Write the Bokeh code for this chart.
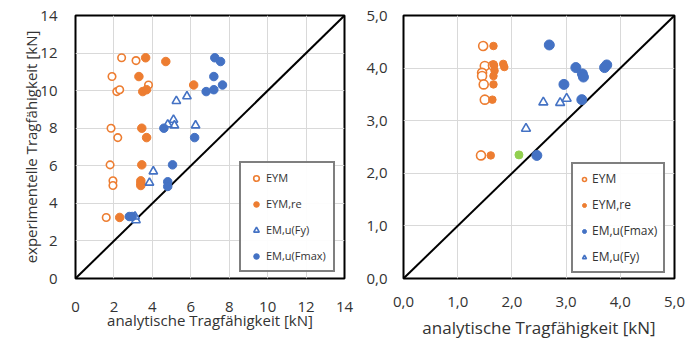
from bokeh.plotting import figure
from bokeh.layouts import row
from bokeh.models import Range1d, FixedTicker, Legend, LegendItem
from bokeh.embed import file_html
from bokeh.resources import INLINE

ORANGE = "#ED7D31"
BLUE = "#4472C4"
GREEN = "#92D050"
TXT = "#333333"
FONT = "Open Sans"

# ---------------- left chart data ----------------
L_ticks = [0, 2, 4, 6, 8, 10, 12, 14]
L_diag = [0, 14]
L_eym_x = [2.4, 3.15, 1.9, 2.15, 2.3, 3.8, 1.85, 2.2, 1.8, 1.95, 1.95, 1.6]
L_eym_y = [11.75, 11.6, 10.75, 9.95, 10.05, 10.3, 8.0, 7.5, 6.05, 5.2, 4.95, 3.25]
L_eymre_x = [3.65, 4.7, 3.3, 3.5, 3.7, 6.15, 3.45, 3.7, 3.45, 3.4, 3.4, 3.4, 2.3]
L_eymre_y = [11.75, 11.55, 10.75, 9.95, 10.05, 10.3, 8.0, 7.5, 6.05, 5.2, 5.05, 4.95, 3.25]
L_fy_x = [5.25, 5.8, 5.1, 5.15, 4.8, 6.25, 4.05, 3.85, 3.15, 3.1]
L_fy_y = [9.45, 9.7, 8.45, 8.15, 8.2, 8.15, 5.7, 5.1, 3.1, 3.3]
L_fmax_x = [7.25, 7.55, 7.2, 7.65, 7.2, 6.8, 4.6, 6.2, 5.05, 4.8, 4.8, 2.8, 2.95]
L_fmax_y = [11.75, 11.55, 10.75, 10.3, 10.05, 9.95, 8.0, 7.5, 6.05, 5.15, 4.9, 3.3, 3.3]

# ---------------- right chart data ----------------
R_ticks = [0, 1, 2, 3, 4, 5]
R_tick_labels = ["0,0", "1,0", "2,0", "3,0", "4,0", "5,0"]
R_diag = [0, 5]
R_eym_x = [1.47, 1.5, 1.45, 1.45, 1.48, 1.65, 1.5, 1.43]
R_eym_y = [4.42, 4.04, 3.91, 3.85, 3.69, 4.05, 3.4, 2.34]
R_eymre_x = [1.66, 1.66, 1.68, 1.66, 1.84, 1.86, 1.66, 1.64, 1.61]
R_eymre_y = [4.42, 4.07, 3.95, 3.85, 4.08, 4.02, 3.69, 3.4, 2.34]
R_green_x = [2.13]
R_green_y = [2.35]
R_fmax_x = [2.69, 3.18, 3.3, 3.32, 2.96, 3.71, 3.75, 3.29, 2.46]
R_fmax_y = [4.44, 4.01, 3.89, 3.83, 3.69, 4.01, 4.06, 3.4, 2.34]
R_fy_x = [2.58, 2.89, 3.01, 2.26]
R_fy_y = [3.35, 3.34, 3.42, 2.85]


def style(p, ticks, overrides=None):
    p.outline_line_color = "black"
    p.outline_line_width = 2
    p.grid.grid_line_color = "#d9d9d9"
    p.grid.grid_line_width = 1
    p.xgrid.ticker = FixedTicker(ticks=ticks)
    p.ygrid.ticker = FixedTicker(ticks=ticks)
    for ax in (p.xaxis, p.yaxis):
        ax.ticker = FixedTicker(ticks=ticks)
        ax.axis_line_color = None
        ax.major_tick_line_color = None
        ax.minor_tick_line_color = None
        ax.major_tick_out = 0
        ax.major_tick_in = 0
        ax.major_label_text_font = FONT
        ax.major_label_text_font_size = "15px"
        ax.major_label_text_color = TXT
        ax.axis_label_text_font = FONT
        ax.axis_label_text_font_style = "normal"
        ax.axis_label_text_color = TXT
        if overrides:
            ax.major_label_overrides = overrides
    p.background_fill_color = "white"
    p.border_fill_color = "white"


# ---------------- left figure ----------------
p1 = figure(width=360, height=342, output_backend="svg", toolbar_location=None,
            x_range=Range1d(0, 14), y_range=Range1d(0, 14))
p1.min_border_left = 75
p1.min_border_right = 16
p1.min_border_top = 15
p1.min_border_bottom = 64
style(p1, L_ticks)
p1.xaxis.axis_label = "analytische Tragfähigkeit [kN]"
p1.yaxis.axis_label = "experimentelle Tragfähigkeit [kN]"
p1.xaxis.axis_label_text_font_size = "15px"
p1.yaxis.axis_label_text_font_size = "15px"
p1.xaxis.major_label_standoff = 23
p1.yaxis.major_label_standoff = 18
p1.xaxis.axis_label_standoff = -5
p1.yaxis.axis_label_standoff = -4

p1.line(L_diag, L_diag, line_color="black", line_width=2)
r1 = p1.scatter(L_eym_x, L_eym_y, marker="circle", size=7.5, fill_color="white",
                line_color=ORANGE, line_width=1.6)
r2 = p1.scatter(L_eymre_x, L_eymre_y, marker="circle", size=8.5, fill_color=ORANGE,
                line_color=ORANGE)
r3 = p1.scatter(L_fy_x, L_fy_y, marker="triangle", size=8.5, fill_color="white",
                line_color=BLUE, line_width=1.6)
r4 = p1.scatter(L_fmax_x, L_fmax_y, marker="circle", size=8.5, fill_color=BLUE,
                line_color=BLUE)
leg1 = Legend(items=[LegendItem(label="EYM", renderers=[r1]),
                     LegendItem(label="EYM,re", renderers=[r2]),
                     LegendItem(label="EM,u(Fy)", renderers=[r3]),
                     LegendItem(label="EM,u(Fmax)", renderers=[r4])],
              location=(164, 6))
leg1.border_line_color = "black"
leg1.border_line_width = 2
leg1.label_text_font = FONT
leg1.label_text_font_size = "11px"
leg1.label_text_color = TXT
leg1.glyph_width = 16
leg1.glyph_height = 14
leg1.label_height = 14
leg1.label_standoff = 2
leg1.spacing = 11
leg1.padding = 7
leg1.margin = 0
p1.add_layout(leg1, "center")

# ---------------- right figure ----------------
p2 = figure(width=340, height=342, output_backend="svg", toolbar_location=None,
            x_range=Range1d(0, 5), y_range=Range1d(0, 5))
p2.min_border_left = 43
p2.min_border_right = 26
p2.min_border_top = 15
p2.min_border_bottom = 64
style(p2, R_ticks, {t: s for t, s in zip(R_ticks, R_tick_labels)})
p2.xaxis.axis_label = "analytische Tragfähigkeit [kN]"
p2.xaxis.axis_label_text_font_size = "17px"
p2.xaxis.major_label_standoff = 18
p2.yaxis.major_label_standoff = 16
p2.xaxis.axis_label_standoff = 6

p2.line(R_diag, R_diag, line_color="black", line_width=2)
q1 = p2.scatter(R_eym_x, R_eym_y, marker="circle", size=9, fill_color="white",
                line_color=ORANGE, line_width=1.6)
q2 = p2.scatter(R_eymre_x, R_eymre_y, marker="circle", size=7.5, fill_color=ORANGE,
                line_color=ORANGE)
p2.scatter(R_green_x, R_green_y, marker="circle", size=8, fill_color=GREEN,
           line_color=GREEN)
q4 = p2.scatter(R_fy_x, R_fy_y, marker="triangle", size=9, fill_color="white",
                line_color=BLUE, line_width=1.6)
q3 = p2.scatter(R_fmax_x, R_fmax_y, marker="circle", size=10, fill_color=BLUE,
                line_color=BLUE)
leg2 = Legend(items=[LegendItem(label="EYM", renderers=[q1]),
                     LegendItem(label="EYM,re", renderers=[q2]),
                     LegendItem(label="EM,u(Fmax)", renderers=[q3]),
                     LegendItem(label="EM,u(Fy)", renderers=[q4])],
              location=(168, 5))
leg2.border_line_color = "black"
leg2.border_line_width = 2
leg2.label_text_font = FONT
leg2.label_text_font_size = "12px"
leg2.label_text_color = TXT
leg2.glyph_width = 10
leg2.glyph_height = 14
leg2.label_height = 14
leg2.label_standoff = 3
leg2.spacing = 9
leg2.padding = 6
leg2.margin = 0
p2.add_layout(leg2, "center")

layout = row(p1, p2)
open("out.html", "w").write(file_html(layout, INLINE))
